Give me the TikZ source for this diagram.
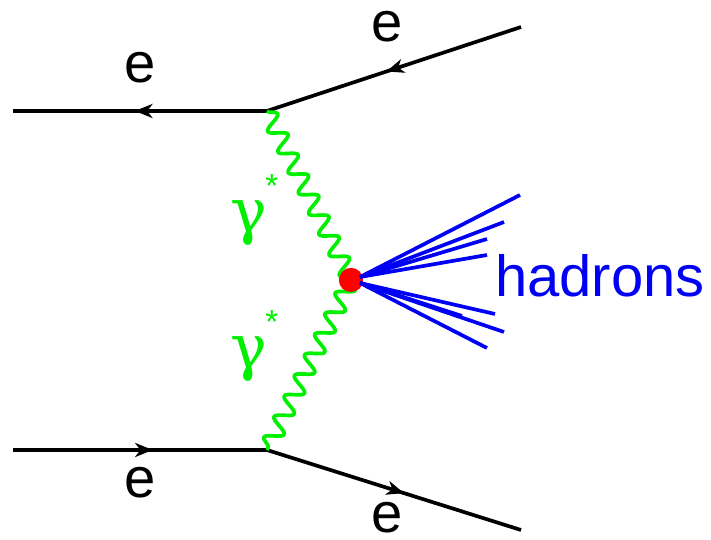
\documentclass[tikz,border=0pt]{standalone}
\usepackage{fontspec}
\setmainfont{Liberation Sans}
\newfontfamily\greekfont{DejaVu Serif}
\usetikzlibrary{arrows.meta, decorations.pathmorphing, decorations.markings}
\definecolor{fmgreen}{RGB}{0,240,0}
\definecolor{fmblue}{RGB}{0,0,245}
\definecolor{fmred}{RGB}{255,0,0}
\tikzset{
    fermion/.style={line width=2.1pt, draw=black, postaction={decorate}, decoration={markings, mark=at position #1 with {\arrow{Stealth[length=10pt, width=8pt, inset=3pt]}}}},
    fermion/.default=0.5,
    photon/.style={line width=2.1pt, draw=fmgreen, line join=round, decorate, decoration={snake, segment length=0.46cm, amplitude=0.17cm}},
    hadron/.style={line width=2.1pt, draw=fmblue},
    blob/.style={circle, fill=fmred, minimum size=0.48cm, inner sep=0pt},
    elabel/.style={inner sep=0pt, font=\fontsize{32}{38}\selectfont},
    glabel/.style={inner sep=0pt, anchor=base west, text=fmgreen, font=\greekfont\fontsize{35}{40}\selectfont},
    hlabel/.style={inner sep=0pt, text=fmblue, font=\fontsize{33}{40}\selectfont}
}
\newcommand{\gstar}{γ\kern-1pt\raisebox{20pt}{\normalfont\fontsize{19}{19}\selectfont *}}

\begin{document}
\begin{tikzpicture}[x=0.02cm, y=-0.02cm]
    \useasboundingbox (0,0) rectangle (711,540);

    % Vertices and outer ends
    \coordinate (vtop) at (267,111);
    \coordinate (vbot) at (267,450);
    \coordinate (inl) at (13,111);
    \coordinate (inr) at (521,27);
    \coordinate (outl) at (13,450);
    \coordinate (outr) at (521,530);

    % Electron lines
    \draw[fermion=0.52] (vtop) -- (inl);
    \draw[fermion=0.53] (inr) -- (vtop);
    \draw[fermion=0.55] (outl) -- (vbot);
    \draw[fermion=0.54] (vbot) -- (outr);

    % Photons
    \node[blob] (blob) at (351,280) {};
    \draw[photon] (vtop) -- (blob.center);
    \draw[photon] (blob.center) -- (vbot);
    \node[blob] at (blob.center) {};

    % Hadron jet
    \coordinate (hubu) at (360,277);
    \coordinate (hubd) at (360,283);
    \coordinate (h1) at (520,195);
    \coordinate (h2) at (504,222);
    \coordinate (h3) at (487,239);
    \coordinate (h4) at (487,255);
    \coordinate (h5) at (495,314);
    \coordinate (h6) at (504,332);
    \coordinate (h7) at (487,348);
    \coordinate (h8) at (462,316);
    \foreach \h in {h1,h2,h3,h4} \draw[hadron] (hubu) -- (\h);
    \foreach \h in {h5,h6,h7,h8} \draw[hadron] (hubd) -- (\h);

    % Labels
    \node[elabel] (ltl) at (140,68) {e};
    \node[elabel] (ltr) at (387,27) {e};
    \node[elabel] (lbl) at (140,483) {e};
    \node[elabel] (lbr) at (387,518) {e};
    \node[glabel] (gtop) at (230,233) {\gstar};
    \node[glabel] (gbot) at (230,369) {\gstar};
    \node[hlabel] (had) at (600,276) {hadrons};
\end{tikzpicture}
\end{document}
